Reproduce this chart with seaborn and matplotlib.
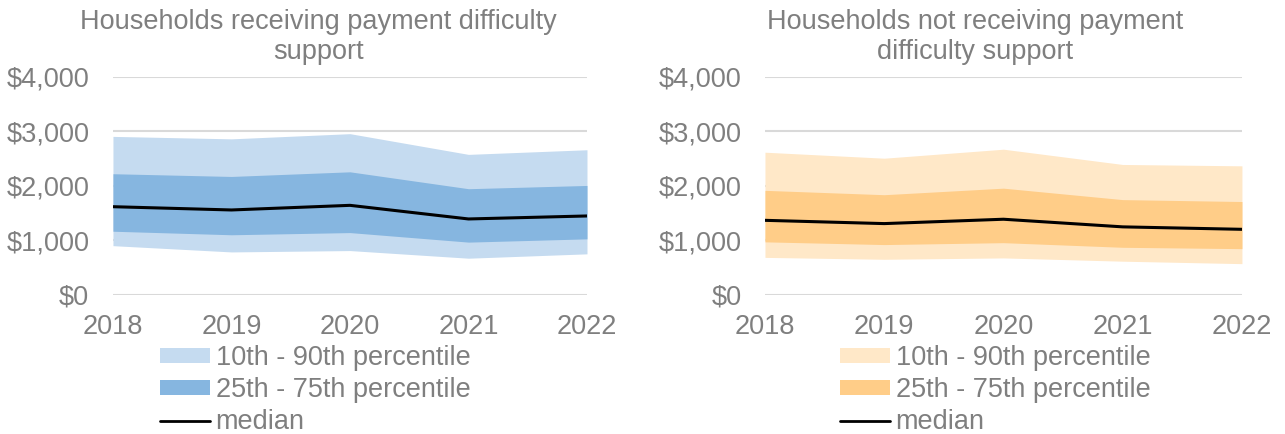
import numpy as np
import pandas as pd
import seaborn as sns
import matplotlib.pyplot as plt
from matplotlib.patches import Patch
from matplotlib.lines import Line2D

years = [2018, 2019, 2020, 2021, 2022]

# households receiving payment difficulty support
recv_p10 = [905, 790, 815, 675, 755]
recv_p25 = [1170, 1105, 1145, 970, 1030]
recv_median = [1620, 1560, 1645, 1395, 1450]
recv_p75 = [2225, 2175, 2260, 1950, 2010]
recv_p90 = [2910, 2865, 2960, 2580, 2665]

# households not receiving payment difficulty support
notrecv_p10 = [690, 655, 680, 620, 575]
notrecv_p25 = [975, 925, 960, 875, 850]
notrecv_median = [1370, 1310, 1390, 1250, 1205]
notrecv_p75 = [1920, 1840, 1960, 1750, 1715]
notrecv_p90 = [2620, 2510, 2675, 2395, 2370]

titles = ["Households receiving payment difficulty\nsupport",
          "Households not receiving payment\ndifficulty support"]
legend_labels = ["10th - 90th percentile", "25th - 75th percentile", "median"]
yticks = [0, 1000, 2000, 3000, 4000]

sns.set_style("white")
plt.rcParams["font.family"] = ["Liberation Sans", "DejaVu Sans"]
grey = "#7f7f7f"
fs = 19.5

df_recv = pd.DataFrame({"Year": years, "p10": recv_p10, "p25": recv_p25,
                        "median": recv_median, "p75": recv_p75, "p90": recv_p90})
df_not = pd.DataFrame({"Year": years, "p10": notrecv_p10, "p25": notrecv_p25,
                       "median": notrecv_median, "p75": notrecv_p75, "p90": notrecv_p90})

fig = plt.figure(figsize=(12.85, 4.34), dpi=100)
ax1 = fig.add_axes([0.0879, 0.3203, 0.3689, 0.5023])
ax2 = fig.add_axes([0.5953, 0.3203, 0.3712, 0.5023])

panels = [
    (ax1, df_recv, titles[0], "#c5dbf0", "#86b6e0", 0.1245, 0.2475),
    (ax2, df_not, titles[1], "#ffe8c8", "#ffcd88", 0.6537, 0.7590),
]

for ax, df, title, light, dark, leg_x, title_x in panels:
    ax.fill_between(df["Year"], df["p10"], df["p90"], color=light, lw=0, zorder=2)
    ax.fill_between(df["Year"], df["p25"], df["p75"], color=dark, lw=0, zorder=3)
    sns.lineplot(data=df, x="Year", y="median", color="black", lw=2.2, ax=ax, zorder=4)

    ax.set_xlim(2018, 2022)
    ax.set_ylim(0, 4000)
    ax.set_xticks(years)
    ax.set_yticks(yticks)
    ax.set_yticklabels(["${:,.0f}".format(v) for v in yticks])
    ax.set_xlabel("")
    ax.set_ylabel("")
    ax.tick_params(axis="both", colors=grey, labelsize=fs, length=0)
    ax.tick_params(axis="x", pad=14)
    ax.tick_params(axis="y", pad=17)
    ax.yaxis.grid(True, color="#d9d9d9", lw=1.5, zorder=1)
    ax.set_axisbelow(True)
    sns.despine(ax=ax, left=True, bottom=True)

    fig.text(title_x, 0.98, title, color=grey, fontsize=fs, ha="center",
             va="top", linespacing=1.22)

    handles = [Patch(facecolor=light, edgecolor="none"),
               Patch(facecolor=dark, edgecolor="none"),
               Line2D([0], [0], color="black", lw=2)]
    fig.legend(handles, legend_labels, loc="upper left",
               bbox_to_anchor=(leg_x, 0.205), frameon=False, fontsize=fs,
               labelcolor=grey, handlelength=1.85, handleheight=0.5,
               handletextpad=0.2, labelspacing=0.23, borderpad=0,
               borderaxespad=0)

fig.savefig("out.png", dpi=100)
